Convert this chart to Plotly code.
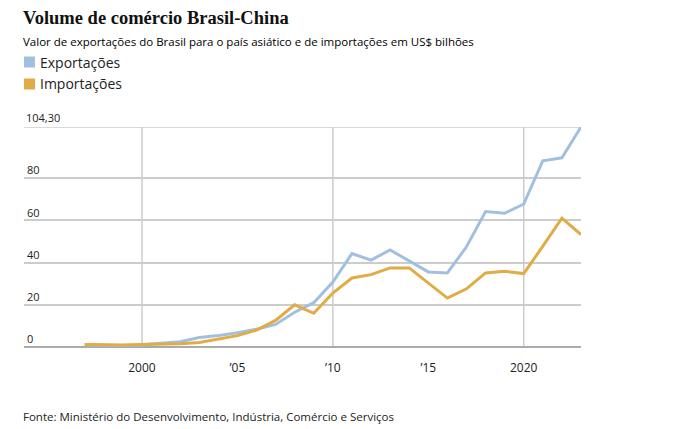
import plotly.graph_objects as go

years = list(range(1997, 2024))
exportacoes = [1.1, 0.9, 0.7, 1.1, 1.9, 2.5, 4.5, 5.4, 6.8, 8.4, 10.7, 16.5, 21.0, 30.8,
               44.3, 41.2, 46.0, 40.6, 35.6, 35.1, 47.5, 64.2, 63.4, 67.8, 88.3, 89.7, 104.3]
importacoes = [1.2, 1.1, 0.9, 1.2, 1.3, 1.6, 2.1, 3.7, 5.4, 8.0, 12.6, 20.0, 16.0, 25.6,
               32.7, 34.3, 37.5, 37.5, 30.5, 23.2, 27.6, 35.1, 35.9, 34.8, 47.8, 61.1, 53.3]
y_ticks = [0, 20, 40, 60, 80, 104.3]
y_tick_text = ["0", "20", "40", "60", "80", "104,30"]
x_ticks = [2000, 2005, 2010, 2015, 2020]
x_tick_text = ["2000", "\u201905", "\u201910", "\u201915", "2020"]
x_grid = [2000, 2010, 2020]
series_names = ["Exportações", "Importações"]
colors = ["#a1c0e0", "#e1ab45"]

SANS = "Open Sans, Noto Sans, sans-serif"
PW, PH = 557, 220   # plot area size in px
def px(x):  # paper x from pixel
    return (x - 24) / PW
def py(y):  # paper y from pixel
    return (347 - y) / PH

fig = go.Figure()
for g in x_grid:
    fig.add_shape(type="line", xref="x", yref="y", x0=g, x1=g, y0=0, y1=y_ticks[-1],
                  line=dict(color="#cccccc", width=1.5), layer="below")
fig.add_shape(type="line", xref="paper", yref="y", x0=0, x1=1, y0=y_ticks[-1], y1=y_ticks[-1],
              line=dict(color="#cccccc", width=1.5), layer="below")

fig.add_trace(go.Scatter(x=years, y=exportacoes, mode="lines", name=series_names[0],
                         line=dict(color=colors[0], width=3), showlegend=False))
fig.add_trace(go.Scatter(x=years, y=importacoes, mode="lines", name=series_names[1],
                         line=dict(color=colors[1], width=3), showlegend=False))

# legend (squares + labels)
for i, (nm, c) in enumerate(zip(series_names, colors)):
    yc = 62 + 22 * i
    fig.add_shape(type="rect", xref="paper", yref="paper",
                  x0=px(24), x1=px(35), y0=py(yc + 5.5), y1=py(yc - 5.5),
                  fillcolor=c, line=dict(width=0))
    fig.add_annotation(xref="paper", yref="paper", x=px(38), y=py(yc),
                       text=nm, showarrow=False, xanchor="left", yanchor="middle",
                       font=dict(family=SANS, size=14, color="#222"))

fig.add_annotation(xref="paper", yref="paper", x=px(21), y=py(18),
                   text="<b>Volume de comércio Brasil-China</b>", showarrow=False,
                   xanchor="left", yanchor="middle",
                   font=dict(family="Liberation Serif, serif", size=18.5, color="#111"))
fig.add_annotation(xref="paper", yref="paper", x=px(21), y=py(42),
                   text="Valor de exportações do Brasil para o país asiático e de importações em US$ bilhões",
                   showarrow=False, xanchor="left", yanchor="middle",
                   font=dict(family=SANS, size=11.5, color="#000"))
fig.add_annotation(xref="paper", yref="paper", x=px(21), y=py(416),
                   text="Fonte: Ministério do Desenvolvimento, Indústria, Comércio e Serviços",
                   showarrow=False, xanchor="left", yanchor="middle",
                   font=dict(family=SANS, size=11.5, color="#222"))
fig.add_annotation(xref="paper", yref="y", x=px(24), y=y_ticks[-1],
                   text=y_tick_text[-1], showarrow=False, xanchor="left", yanchor="bottom",
                   font=dict(family=SANS, size=11, color="#222"))

fig.update_layout(
    width=690, height=429,
    margin=dict(l=24, r=109, t=127, b=82),
    paper_bgcolor="white", plot_bgcolor="white",
    xaxis=dict(range=[1993.82, 2023], tickvals=x_ticks, ticktext=x_tick_text,
               showgrid=False, zeroline=False, showline=False, ticks="",
               ticklabelstandoff=12,
               tickfont=dict(family=SANS, size=12, color="#222")),
    yaxis=dict(range=[0, 104.3], tickvals=y_ticks[:-1], ticktext=y_tick_text[:-1],
               showgrid=True, gridcolor="#cccccc", gridwidth=1.5,
               zeroline=True, zerolinecolor="#aaaaaa", zerolinewidth=1.5,
               showline=False, ticks="", ticklabelposition="inside top",
               tickfont=dict(family=SANS, size=11, color="#222")),
    showlegend=False,
)

fig.write_html("out.html")
